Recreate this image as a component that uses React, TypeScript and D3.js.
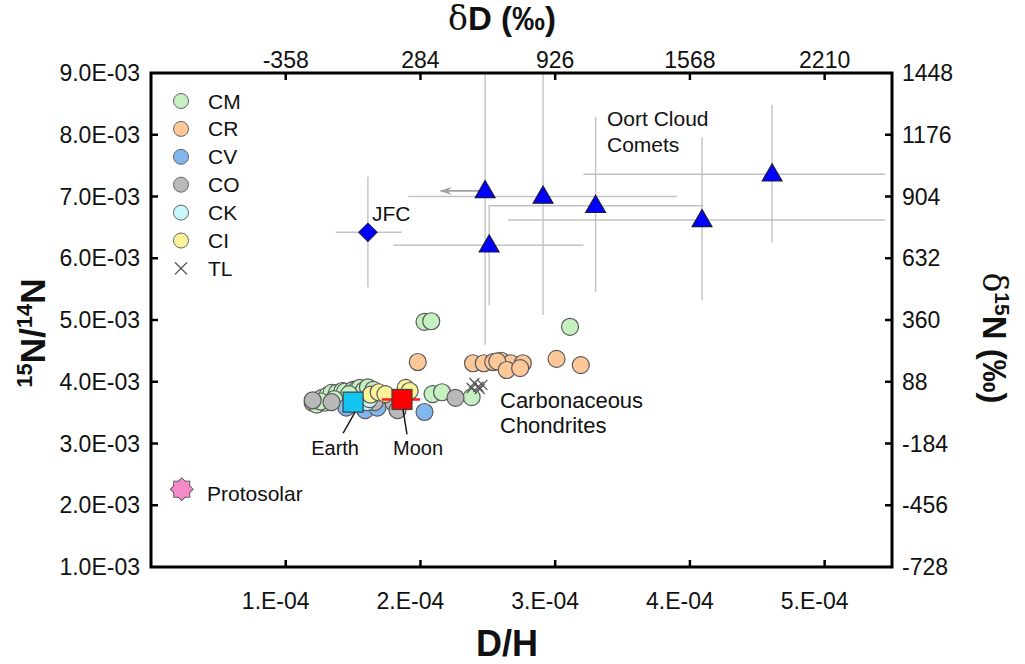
import React from 'react';
import * as d3 from 'd3';

const W = 1025, H = 664;
const FONT = '"Liberation Sans", Arial, Helvetica, sans-serif';

// axis ticks (D/H in units of 1e-4, 15N/14N in units of 1e-3)
const xTicks = [1, 2, 3, 4, 5];
const xTickLabels = ['1.E-04', '2.E-04', '3.E-04', '4.E-04', '5.E-04'];
const topTickLabels = ['-358', '284', '926', '1568', '2210'];
const yTicks = [1, 2, 3, 4, 5, 6, 7, 8, 9];
const yTickLabels = ['1.0E-03', '2.0E-03', '3.0E-03', '4.0E-03', '5.0E-03', '6.0E-03', '7.0E-03', '8.0E-03', '9.0E-03'];
const rightTickLabels = ['-728', '-456', '-184', '88', '360', '632', '904', '1176', '1448'];

// chondrite groups: [D/H (1e-4), 15N/14N (1e-3)]
const CM: [number, number][] = [
  [1.20, 3.66], [1.23, 3.63], [1.24, 3.70], [1.27, 3.74], [1.29, 3.66], [1.31, 3.78], [1.34, 3.82],
  [1.38, 3.82], [1.42, 3.85], [1.44, 3.84], [1.50, 3.87], [1.53, 3.88], [1.55, 3.90], [1.58, 3.86],
  [1.61, 3.91], [1.65, 3.87], [1.47, 3.80], [1.36, 3.72], [1.26, 3.68], [2.09, 3.80], [2.16, 3.83],
  [2.38, 3.75], [2.03, 4.97], [2.08, 4.98], [3.11, 4.89],
];
const CR: [number, number][] = [
  [1.98, 4.32], [2.39, 4.30], [2.47, 4.30], [2.54, 4.32], [2.60, 4.34], [2.67, 4.30], [2.76, 4.30],
  [2.57, 4.33], [2.64, 4.19], [2.74, 4.22], [3.01, 4.37], [3.19, 4.27],
];
const CV: [number, number][] = [[2.03, 3.51], [1.59, 3.54], [1.68, 3.58], [1.45, 3.58]];
const CO: [number, number][] = [[1.20, 3.70], [1.34, 3.67], [1.55, 3.68], [1.66, 3.67], [1.80, 3.66], [1.83, 3.54], [2.26, 3.74]];
const CK: [number, number][] = [[1.60, 3.67], [1.62, 3.72]];
const CI: [number, number][] = [[1.63, 3.79], [1.69, 3.83], [1.74, 3.80], [1.89, 3.90], [1.92, 3.85]];
const TL: [number, number][] = [[2.40, 3.98], [2.43, 3.92], [2.46, 3.95], [2.44, 3.88], [2.38, 3.90]];

const groupNames = ['CM', 'CR', 'CV', 'CO', 'CK', 'CI'];
const groupData = [CM, CR, CV, CO, CK, CI];
const groupColors = ['#c4f0c2', '#fcc799', '#82b6ee', '#b9b9b9', '#c9f6f8', '#fbf39a'];

// comets: D/H, 15N/14N and error ranges
const oortNames = ['C1', 'C2', 'C3', 'C4', 'C5', 'C6'];
const oortDH = [2.48, 2.91, 3.30, 4.09, 4.61, 2.51];
const oortN = [7.09, 7.00, 6.85, 6.62, 7.36, 6.21];
const oortDHLo = [null, 1.91, 2.51, 2.65, 3.21, 1.80];
const oortDHHi = [null, 3.905, 4.10, 5.45, 5.45, 3.21];
const oortNLo = [4.60, 5.08, 5.45, 5.32, 6.26, 5.24];
const oortNHi = [8.97, 8.99, 8.29, 7.96, 8.48, 6.86];
const oortUpperLimitDH = [2.15, null, null, null, null, null];

const jfc = { dh: 1.61, n: 6.42, dhLo: 1.37, dhHi: 1.86, nLo: 5.53, nHi: 7.32 };
const earth = { dh: 1.50, n: 3.67 };
const moon = { dh: 1.863, n: 3.713, dhLo: 1.713, dhHi: 1.997 };
const protosolar = { dh: 0.228, n: 2.26 };

export default function App() {
  const left = 151, right = 892, top = 73, bottom = 567;
  const x = d3.scaleLinear().domain([0, 5.5]).range([left, right]);
  const y = d3.scaleLinear().domain([1, 9]).range([bottom, top]);
  const r = 8.5;
  const tickLen = 7;

  const tri = d3.symbol().type(d3.symbolTriangle).size(170)() as string;

  const cross = (cx: number, cy: number, s: number, key: string, color = '#555') => (
    <g key={key} stroke={color} strokeWidth={1.3}>
      <line x1={cx - s} y1={cy - s} x2={cx + s} y2={cy + s} />
      <line x1={cx - s} y1={cy + s} x2={cx + s} y2={cy - s} />
    </g>
  );

  return (
    <svg width={W} height={H} style={{ position: 'absolute', left: 0, top: 0, background: '#fff' }} fontFamily={FONT}>
      <defs>
        <clipPath id="plotClip">
          <rect x={left} y={top} width={right - left} height={bottom - top} />
        </clipPath>
        <marker id="arrow" viewBox="0 0 12 10" refX="11" refY="5" markerWidth="12" markerHeight="10" markerUnits="userSpaceOnUse" orient="auto">
          <path d="M12,5 L0,1 L4,5 L0,9 Z" fill="#a0a0a0" />
        </marker>
      </defs>

      {/* error bars */}
      <g clipPath="url(#plotClip)" stroke="#c2c2c2" strokeWidth={1.4}>
        {oortNames.map((n, i) => (
          <g key={n}>
            <line x1={x(oortDH[i])} x2={x(oortDH[i])} y1={y(oortNLo[i])} y2={y(oortNHi[i])} />
            {oortDHLo[i] != null && (
              <line x1={x(oortDHLo[i] as number)} x2={x(oortDHHi[i] as number)} y1={y(oortN[i])} y2={y(oortN[i])} />
            )}
          </g>
        ))}
        <line x1={x(jfc.dh)} x2={x(jfc.dh)} y1={y(jfc.nLo)} y2={y(jfc.nHi)} />
        <line x1={x(jfc.dhLo)} x2={x(jfc.dhHi)} y1={y(jfc.n)} y2={y(jfc.n)} />
      </g>
      {oortNames.map((n, i) => oortUpperLimitDH[i] != null && (
        <line key={'ul' + n} x1={x(oortDH[i])} x2={x(oortUpperLimitDH[i] as number)} y1={y(oortN[i])} y2={y(oortN[i])}
          stroke="#a0a0a0" strokeWidth={1.8} markerEnd="url(#arrow)" />
      ))}

      {/* chondrites */}
      {groupData.map((data, gi) => (
        <g key={groupNames[gi]}>
          {data.map((d, i) => (
            <circle key={i} cx={x(d[0])} cy={y(d[1])} r={r} fill={groupColors[gi]} stroke="#5a5a5a" strokeWidth={1.2} />
          ))}
        </g>
      ))}
      {TL.map((d, i) => cross(x(d[0]), y(d[1]), 5, 'tl' + i))}

      {/* Moon error bar */}
      <line x1={x(moon.dhLo)} x2={x(moon.dhHi)} y1={y(moon.n)} y2={y(moon.n)} stroke="#ff1a1a" strokeWidth={2.5} />

      {/* Earth & Moon */}
      <rect x={x(earth.dh) - 10} y={y(earth.n) - 10} width={20} height={20} fill="#12c4f0" stroke="#404040" strokeWidth={1.2} />
      <rect x={x(moon.dh) - 10} y={y(moon.n) - 10} width={20} height={20} fill="#ff0000" stroke="#404040" strokeWidth={1.2} />
      <line x1={x(earth.dh) + 2} y1={y(earth.n) + 10} x2={x(earth.dh) - 10} y2={y(earth.n) + 31} stroke="#111" strokeWidth={1.4} />
      <line x1={x(moon.dh) + 1} y1={y(moon.n) + 10} x2={x(moon.dh) + 5} y2={y(moon.n) + 35} stroke="#111" strokeWidth={1.4} />
      <text x={x(earth.dh) - 18} y={y(earth.n) + 53} fontSize={20} textAnchor="middle" fill="#111">Earth</text>
      <text x={x(moon.dh) + 16} y={y(moon.n) + 56} fontSize={20} textAnchor="middle" fill="#111">Moon</text>

      {/* comets */}
      {oortNames.map((n, i) => (
        <path key={n} d={tri} transform={`translate(${x(oortDH[i])},${y(oortN[i]) + 1})`} fill="#0000ff" stroke="#1a1a40" strokeWidth={1.2} />
      ))}
      <rect x={-6.5} y={-6.5} width={13} height={13} transform={`translate(${x(jfc.dh)},${y(jfc.n)}) rotate(45)`} fill="#0000ff" stroke="#1a1a40" strokeWidth={1} />

      {/* protosolar */}
      <g transform={`translate(${x(protosolar.dh)},${y(protosolar.n)})`}>
        <rect x={-8} y={-8} width={16} height={16} fill="#f58ac8" stroke="#555" strokeWidth={1} />
        <rect x={-8} y={-8} width={16} height={16} transform="rotate(45)" fill="#f58ac8" stroke="#555" strokeWidth={1} />
        <rect x={-7.4} y={-7.4} width={14.8} height={14.8} fill="#f58ac8" />
        <rect x={-7.4} y={-7.4} width={14.8} height={14.8} transform="rotate(45)" fill="#f58ac8" />
      </g>

      {/* annotations */}
      <text x={372} y={221} fontSize={21} fill="#111">JFC</text>
      <text x={607} y={126} fontSize={21} fill="#111">Oort Cloud</text>
      <text x={607} y={152} fontSize={21} fill="#111">Comets</text>
      <text x={500} y={408} fontSize={22} fill="#111">Carbonaceous</text>
      <text x={500} y={433} fontSize={22} fill="#111">Chondrites</text>
      <text x={207} y={501} fontSize={21} fill="#111">Protosolar</text>

      {/* legend */}
      {groupNames.map((g, i) => (
        <g key={g} transform={`translate(181,${101 + i * 27.9})`}>
          <circle r={7.5} fill={groupColors[i]} stroke="#666" strokeWidth={1} />
          <text x={27} y={7.5} fontSize={21} fill="#111">{g}</text>
        </g>
      ))}
      <g transform={`translate(181,${101 + 6 * 27.9})`}>
        {cross(0, 0, 6, 'lg', '#444')}
        <text x={27} y={7.5} fontSize={21} fill="#111">TL</text>
      </g>

      {/* frame */}
      <rect x={left} y={top} width={right - left} height={bottom - top} fill="none" stroke="#000" strokeWidth={3} />

      {/* ticks */}
      <g stroke="#000" strokeWidth={2.5}>
        {xTicks.map(t => (
          <g key={'xt' + t}>
            <line x1={x(t)} x2={x(t)} y1={bottom} y2={bottom - tickLen} />
            <line x1={x(t)} x2={x(t)} y1={top} y2={top + tickLen} />
          </g>
        ))}
        {yTicks.slice(1, -1).map(t => (
          <g key={'yt' + t}>
            <line x1={left} x2={left + tickLen} y1={y(t)} y2={y(t)} />
            <line x1={right} x2={right - tickLen} y1={y(t)} y2={y(t)} />
          </g>
        ))}
      </g>

      {/* tick labels */}
      <g fontSize={23} fill="#111">
        {xTicks.map((t, i) => (
          <text key={'xl' + t} x={x(t) - 10} y={609} textAnchor="middle">{xTickLabels[i]}</text>
        ))}
        {xTicks.map((t, i) => (
          <text key={'tl' + t} x={x(t)} y={68} textAnchor="middle">{topTickLabels[i]}</text>
        ))}
        {yTicks.map((t, i) => (
          <text key={'yl' + t} x={140} y={y(t) + 8} textAnchor="end">{yTickLabels[i]}</text>
        ))}
        {yTicks.map((t, i) => (
          <text key={'rl' + t} x={902} y={y(t) + 8} textAnchor="start">{rightTickLabels[i]}</text>
        ))}
      </g>

      {/* axis titles */}
      <text x={502} y={30} fontSize={33} textAnchor="middle" fill="#111">
        <tspan fontFamily='"DejaVu Serif", serif'>δ</tspan><tspan fontWeight="bold">D (‰)</tspan>
      </text>
      <text x={507} y={656} fontSize={36} fontWeight="bold" textAnchor="middle" fill="#111">D/H</text>
      <text transform="translate(45,333) rotate(-90)" fontSize={35} fontWeight="bold" textAnchor="middle" fill="#111">
        <tspan fontSize={22} dy={-13}>15</tspan><tspan dy={13}>N/</tspan><tspan fontSize={22} dy={-13}>14</tspan><tspan dy={13}>N</tspan>
      </text>
      <text transform="translate(983,338) rotate(90)" fontSize={33} fontWeight="bold" textAnchor="middle" fill="#111">
        <tspan fontFamily='"DejaVu Serif", serif' fontWeight="normal">δ</tspan><tspan fontSize={21} dy={-12}>15</tspan><tspan dy={12}>N (‰)</tspan>
      </text>
    </svg>
  );
}
